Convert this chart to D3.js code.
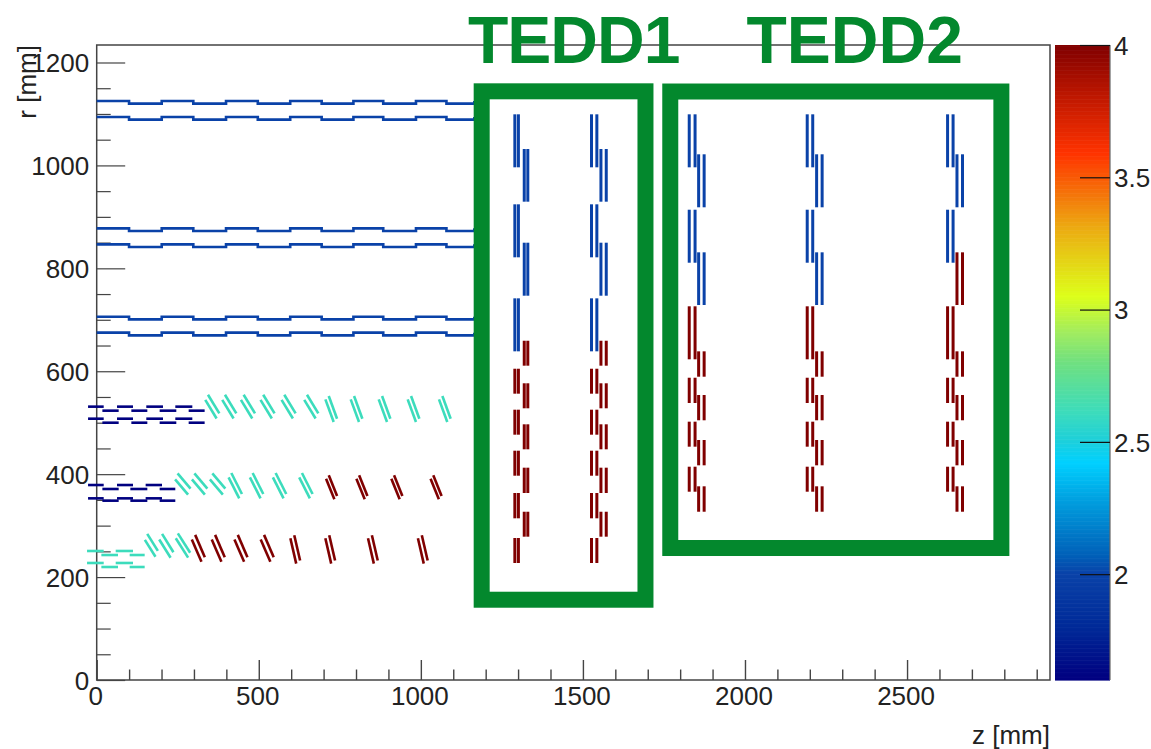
<!DOCTYPE html>
<html><head><meta charset="utf-8">
<script src="https://cdn.jsdelivr.net/npm/d3@7"></script>
<style>html,body{margin:0;padding:0;background:#fff}svg{display:block}text{font-family:"Liberation Sans",Arial,sans-serif;fill:#222}</style>
</head><body><svg id="c" width="1151" height="749"></svg>
<script>
// ---- axis data
const zTicks=[0,500,1000,1500,2000,2500];
const rTicks=[0,200,400,600,800,1000,1200];
const zDomain=[0,2941], rDomain=[0,1234], valueDomain=[1.6,4];
const valueTicks=[2,2.5,3,3.5,4];
const paletteValues=[1.6,1.8,2,2.07,2.28,2.42,2.51,2.61,2.8,2.91,3.05,3.31,3.59,3.8,4];
const paletteColors=["#000080","#002a98","#0a42a8","#0060b8","#00a0e0","#00d0ff","#20d0d8","#3cdcbc","#70e080","#a0ec60","#ddff1a","#ecaa12","#ff3300","#c01800","#800000"];
// ---- outer barrel (2S) staves
const staveEdges=[0,99.8,200.6,298,399,497,597,694,792,884,985,1079,1165];
const staveRadii=[[1125.1,1120],[1094,1088.9],[877.7,872.5],[846.6,841.4],[706,700.9],[675,669.8]];
const staveValue=2;
// ---- inner barrel flat rods: [z start, z end]
const flat1Seg=[[-29.8,21.6],[14.4,65.8],[58.6,112],[101.7,148]];
const flat1Radii=[[250.7,242.9],[227.4,219.6]];
const flat1Value=2.61;
const flat2Seg=[[-26.7,21.6],[17.5,67.8],[62.7,112],[103.8,156.2],[151,201.4],[194.2,242.5]];
const flat2Radii=[[378.9,371.2],[353,348.5]];
const flat2Value=1.6;
const flat3Seg=[[-26.7,21.6],[17.5,67.8],[62.7,112],[106.9,156.2],[153,204.5],[194.2,245.6],[242.5,295],[283.7,333]];
const flat3Radii=[[531.2,523.4],[507.8,500]];
const flat3Value=1.6;
// ---- tilted modules: z centres, r centre, half extent (dz,dr), half gap (gz,gr), value
const t1aZ=[168.6],  t1aSpec=[261.7,16.4,16.5,3.7,5.8,2.61];
const t1bZ=[214.8],  t1bSpec=[260.7,17.5,17.8,4.4,5.4,2.61];
const t1cZ=[266.2],  t1cSpec=[261.4,19,18.8,3.2,4.8,2.61];
const t1dZ=[313.5,375,445,526], t1dSpec=[255.9,14.9,21.7,5.2,4.4,4];
const t1eZ=[612.5,720.4,852,1006], t1eSpec=[253.8,9,24.6,6,3,4];
const t2aZ=[265.7,317.6,373], t2aSpec=[380.9,20,14.9,3.8,5.8,2.61];
const t2bZ=[427.5,493.3,564.2,645.4], t2bSpec=[377.6,16.4,20.4,4.2,4.2,2.61];
const t2cZ=[724.6,818.2,926,1047], t2cSpec=[374.4,12.8,20.1,4.2,3.2,4];
const t3aZ=[356.6,409,466.6,527,592,662], t3aSpec=[531.2,17.5,18.1,4.2,5,2.61];
const t3bZ=[723.5,801.6,888,977.4,1074], t3bSpec=[526.6,12.8,22,5.2,3.2,2.61];
// ---- endcap disks
const tedd1DiskZ=[[1290,1301,1319,1330],[1526.5,1543,1555.6,1572]];
const tedd2DiskZ=[[1828,1846,1857,1874],[2192,2209,2221,2238],[2625,2642,2654,2671]];
const tedd1RingHi=[1099.3,1031.9,924.4,849.8,741.7,659.3,604.9,576.6,525.3,496.9,445.6,412.6,363.4,327,276];
const tedd1RingLo=[996.3,929.5,821.4,746.8,638.7,610.8,556.4,528,476.7,448.3,397,363.4,314.2,278.5,227.4];
const tedd1RingVal=[2,2,2,2,2,4,4,4,4,4,4,4,4,4,4];
const tedd2RingHi=[1099.3,1021.6,913.9,831.1,726.2,638.7,587.4,553.8,502,466.4,414.5,376.4];
const tedd2RingLo=[996.3,918.6,810.9,728.7,623.2,589.4,538.3,504.7,453.4,417.2,365.9,327];
const tedd2RingVal=[2,2,2,2,4,4,4,4,4,4,4,4];
const tedd2LastDiskVal=[2,2,2,4,4,4,4,4,4,4,4,4];
// ---- annotations
const teddLabels=["TEDD1","TEDD2"];
const teddBoxes=[[1187.7,1693,1144,156],[1769.5,2791,1143.6,256.5]];

const svg=d3.select("#c");
const x=d3.scaleLinear().domain(zDomain).range([96.7,1050]);
const y=d3.scaleLinear().domain(rDomain).range([680,45]);
const yc=d3.scaleLinear().domain(valueDomain).range([680,45]);
const col=d3.scaleLinear().domain(paletteValues).range(paletteColors);
const axisCol="#444";

// colour bar
const gb=svg.append("g");
d3.range(1.6,4,0.005).forEach(v=>{
  gb.append("rect").attr("x",1055).attr("width",55).attr("y",yc(v+0.005)).attr("height",yc(v)-yc(v+0.005)+0.6).attr("fill",col(v));
});
gb.append("line").attr("x1",1110).attr("x2",1110).attr("y1",45).attr("y2",680).attr("stroke","#666").attr("stroke-width",1.2);
const cbAxis=svg.append("g").attr("transform","translate(1110,0)")
  .call(d3.axisRight(yc).tickValues(valueTicks).tickSize(-30).tickSizeOuter(0).tickFormat(d3.format("")));
cbAxis.select(".domain").remove();
cbAxis.selectAll("line").attr("stroke","#111").attr("stroke-width",1.2);
cbAxis.selectAll("text").attr("x",4).attr("dy","0.36em").style("font-size","26px").style("fill","#222").attr("text-anchor","start");

// frame
svg.append("rect").attr("x",x(0)).attr("y",y(rDomain[1])).attr("width",x(zDomain[1])-x(0)).attr("height",y(0)-y(rDomain[1]))
  .attr("fill","none").attr("stroke",axisCol).attr("stroke-width",1.5);

// axes
const xAxis=svg.append("g").attr("transform",`translate(0,${y(0)})`)
  .call(d3.axisBottom(x).tickValues(zTicks).tickSize(-20).tickSizeOuter(0).tickFormat(d3.format("d")));
xAxis.select(".domain").remove();
xAxis.selectAll("line").attr("stroke",axisCol).attr("stroke-width",1.4);
xAxis.selectAll("text").attr("y",25).attr("dx",-1.5).attr("dy",0).style("font-size","26px").style("fill","#222");
const xMinor=svg.append("g").attr("transform",`translate(0,${y(0)})`)
  .call(d3.axisBottom(x).tickValues(d3.range(100,2901,100).filter(v=>v%500)).tickSize(-10.5).tickFormat(""));
xMinor.select(".domain").remove();
xMinor.selectAll("line").attr("stroke",axisCol).attr("stroke-width",1.4);

const yAxis=svg.append("g").attr("transform",`translate(${x(0)},0)`)
  .call(d3.axisLeft(y).tickValues(rTicks).tickSize(-28.5).tickSizeOuter(0).tickFormat(d3.format("d")));
yAxis.select(".domain").remove();
yAxis.selectAll("line").attr("stroke",axisCol).attr("stroke-width",1.2);
yAxis.selectAll("text").attr("x",-7.5).attr("dy","0.36em").style("font-size","26px").style("fill","#222");
const yMinor=svg.append("g").attr("transform",`translate(${x(0)},0)`)
  .call(d3.axisLeft(y).tickValues(d3.range(50,1201,50).filter(v=>v%200)).tickSize(-14).tickFormat(""));
yMinor.select(".domain").remove();
yMinor.selectAll("line").attr("stroke",axisCol).attr("stroke-width",1.2);

svg.append("text").attr("x",1050).attr("y",744).attr("text-anchor","end").style("font-size","26px").text("z [mm]");
svg.append("text").attr("transform","translate(36,45) rotate(-90)").attr("text-anchor","end").style("font-size","26px").text("r [mm]");

// marks
const marks=svg.append("g").attr("fill","none");
const seg=(z1,r1,z2,r2,v,w)=>marks.append("line").attr("x1",x(z1)).attr("y1",y(r1)).attr("x2",x(z2)).attr("y2",y(r2)).attr("stroke",col(v)).attr("stroke-width",w);

// staves: stepped lines
const stave=d3.line().x(d=>x(d[0])).y(d=>y(d[1])).curve(d3.curveStepAfter);
staveRadii.forEach(rr=>{
  const pts=staveEdges.map((z,i)=>[z,rr[i%2]]);
  marks.append("path").attr("d",stave(pts)).attr("stroke",col(staveValue)).attr("stroke-width",2.6);
});
// flat rods
[[flat1Seg,flat1Radii,flat1Value],[flat2Seg,flat2Radii,flat2Value],[flat3Seg,flat3Radii,flat3Value]].forEach(([segs,radii,v])=>{
  radii.forEach(rr=>segs.forEach((s,i)=>seg(s[0],rr[i%2],s[1],rr[i%2],v,2.6)));
});
// tilted modules
[[t1aZ,t1aSpec],[t1bZ,t1bSpec],[t1cZ,t1cSpec],[t1dZ,t1dSpec],[t1eZ,t1eSpec],[t2aZ,t2aSpec],[t2bZ,t2bSpec],[t2cZ,t2cSpec],[t3aZ,t3aSpec],[t3bZ,t3bSpec]].forEach(([zs,sp])=>{
  const [r,dz,dr,gz,gr,v]=sp;
  zs.forEach(z=>{
    [1,-1].forEach(s=>{
      const cz=z+s*gz, cr=r+s*gr;
      seg(cz-dz,cr+dr,cz+dz,cr-dr,v,2.6);
    });
  });
});
// disks
const drawDisk=(zs,hi,lo,val)=>{
  hi.forEach((h,i)=>{
    const c=i%2?[zs[2],zs[3]]:[zs[0],zs[1]];
    c.forEach(z=>seg(z,h,z,lo[i],val[i],3));
  });
};
tedd1DiskZ.forEach(zs=>drawDisk(zs,tedd1RingHi,tedd1RingLo,tedd1RingVal));
tedd2DiskZ.forEach((zs,k)=>drawDisk(zs,tedd2RingHi,tedd2RingLo,k===2?tedd2LastDiskVal:tedd2RingVal));

// annotation boxes and titles
const green="#03882d";
teddBoxes.forEach(b=>{
  svg.append("rect").attr("x",x(b[0])).attr("y",y(b[2])).attr("width",x(b[1])-x(b[0])).attr("height",y(b[3])-y(b[2]))
    .attr("fill","none").attr("stroke",green).attr("stroke-width",16);
});
svg.selectAll("text.tedd").data(teddLabels).join("text").attr("class","tedd")
  .attr("x",(d,i)=>[468,746.5][i]).attr("y",63.3).style("font-size","66px").style("font-weight","bold")
  .style("letter-spacing",(d,i)=>i?"0px":"-1px").style("fill",green).text(d=>d);
</script></body></html>
